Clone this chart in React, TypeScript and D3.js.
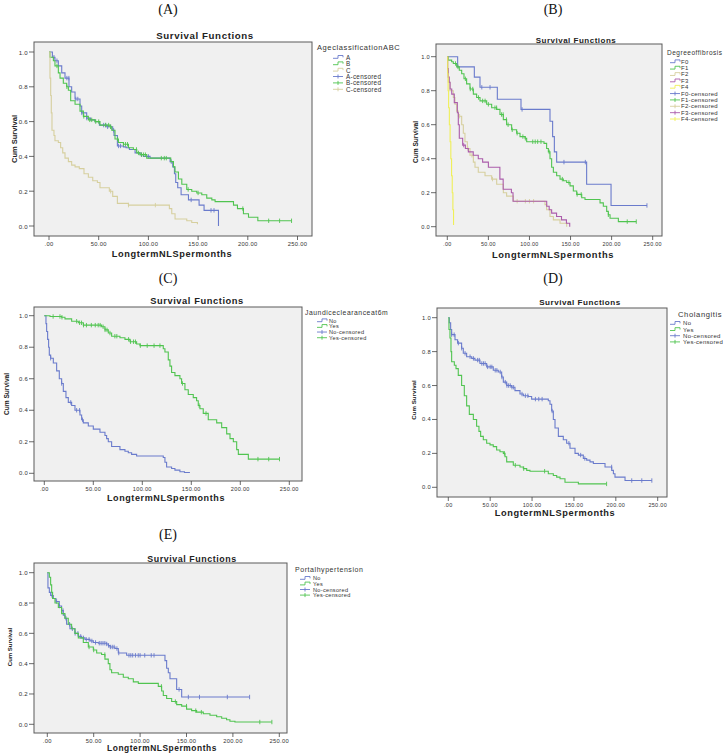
import React from "react";
import * as d3 from "d3";

// ---------------- DATA ----------------
const xTicks = [0, 50, 100, 150, 200, 250];
const xTickLabels = [".00", "50.00", "100.00", "150.00", "200.00", "250.00"];
const yTicks = [0, 0.2, 0.4, 0.6, 0.8, 1.0];
const yTickLabels = ["0.0", "0.2", "0.4", "0.6", "0.8", "1.0"];

// Panel A: Ageclassification ABC
const ageA_steps: [number, number][] = [[3.4,0.97],[6,0.95],[9.4,0.92],[12.8,0.88],[16.1,0.85],[20.1,0.8],[22.8,0.77],[26.2,0.73],[31.2,0.69],[32.9,0.65],[37.9,0.62],[41.9,0.61],[46.3,0.6],[50.7,0.58],[58.1,0.57],[64.1,0.55],[65.4,0.52],[68.8,0.46],[74.8,0.455],[77.5,0.45],[80.9,0.44],[86.6,0.42],[91.6,0.41],[95,0.4],[101.7,0.39],[121.8,0.37],[124.5,0.34],[126.2,0.3],[127.5,0.25],[129.5,0.22],[132.9,0.18],[140.3,0.15],[151,0.12],[156,0.09],[170.5,0]];
const ageA_cens = [5, 8, 18, 20, 27, 29, 33, 38, 55, 57, 59, 62, 65, 70, 72, 93, 100, 123, 143, 163, 166];
const ageB_steps: [number, number][] = [[1,0.97],[4.4,0.95],[6,0.92],[9.4,0.88],[11.1,0.85],[14.4,0.82],[17.8,0.8],[19.5,0.78],[21.8,0.72],[26.2,0.7],[31.2,0.66],[34.6,0.63],[39.6,0.61],[46.3,0.6],[51.3,0.58],[61.4,0.57],[63.1,0.55],[66.4,0.5],[69.8,0.48],[74.8,0.47],[79.9,0.45],[84.9,0.44],[88.3,0.42],[91.6,0.41],[98.3,0.39],[122.5,0.37],[125.2,0.34],[126.8,0.31],[130.2,0.27],[133.6,0.24],[138.6,0.21],[143.6,0.2],[148.7,0.19],[153.7,0.18],[158.7,0.16],[163.8,0.15],[167.1,0.14],[185.6,0.12],[189.6,0.1],[195.6,0.07],[200.7,0.05],[210.1,0.03]];
const ageB_cens = [8, 18, 35, 41, 43, 47, 50, 57, 60, 62, 69, 75, 77, 79, 88, 90, 93, 95, 97, 113, 116, 118, 140, 150, 195, 221, 232, 244];
const ageC_steps: [number, number][] = [[1,0.85],[1.7,0.75],[2.3,0.65],[3,0.55],[5,0.52],[6,0.49],[9.4,0.48],[11.7,0.45],[13.8,0.42],[16.1,0.39],[19.5,0.37],[22.8,0.35],[26.2,0.34],[30.5,0.33],[35.2,0.3],[39.6,0.28],[44,0.26],[48.7,0.25],[51.3,0.22],[60.7,0.2],[64.1,0.17],[68.8,0.13],[79.9,0.12],[121.1,0.1],[123.5,0.07],[126.8,0.04],[138.6,0.03],[143.6,0.02],[149.3,0.01]];
const ageC_cens = [62, 80, 107];

// Panel B: Degree of fibrosis
const fibF0_steps: [number, number][] = [[12.6,0.94],[32.9,0.88],[39.8,0.82],[60.9,0.75],[89.7,0.69],[125,0.62],[128.2,0.53],[130.3,0.44],[133.1,0.38],[169.6,0.25],[199.3,0.125]];
const fibF0_cens = [42, 52, 91, 142, 168, 243];
const fibF1_steps: [number, number][] = [[1.2,0.98],[5.3,0.97],[7.3,0.96],[11.4,0.94],[14.6,0.92],[17.5,0.9],[20.3,0.87],[23.5,0.84],[27.6,0.81],[31.7,0.78],[35.7,0.76],[39.8,0.74],[47.9,0.72],[54,0.7],[60.1,0.69],[64.1,0.66],[68.2,0.63],[72.2,0.6],[78.3,0.57],[84.4,0.55],[88.5,0.53],[94.6,0.52],[96.6,0.5],[117.7,0.49],[120.9,0.46],[123,0.44],[125,0.4],[127,0.35],[129.1,0.32],[133.1,0.3],[137.2,0.28],[141.2,0.27],[145.3,0.26],[149.4,0.24],[153.4,0.21],[157.5,0.19],[163.6,0.17],[167.6,0.16],[185.9,0.14],[189.9,0.12],[194,0.09],[196,0.07],[198.1,0.05],[208.2,0.03]];
const fibF1_cens = [10, 13, 22, 28, 31, 38, 43, 46, 50, 58, 60, 66, 68, 72, 74, 79, 85, 92, 95, 104, 107, 110, 114, 124, 140, 148, 158, 163, 196, 219, 230];
const fibF2_steps: [number, number][] = [[0.4,0.92],[1.2,0.85],[3.2,0.8],[7.3,0.76],[9.3,0.72],[11.4,0.68],[13.4,0.65],[17.5,0.6],[19.5,0.55],[21.5,0.5],[24.4,0.46],[27.6,0.42],[31.7,0.38],[33.7,0.35],[37.7,0.32],[45.9,0.3],[54,0.28],[60.1,0.25],[68.2,0.2],[72.2,0.18],[80.4,0.15],[118.9,0.13],[120.9,0.1],[125,0.06],[129.1,0.04],[137.2,0.02],[145.3,0]];
const fibF2_cens = [15, 25, 30, 55, 85, 95, 100, 105];
const fibF3_steps: [number, number][] = [[0.4,0.93],[1.2,0.88],[2.4,0.85],[3.4,0.81],[5.4,0.78],[8.5,0.73],[12.2,0.67],[13.4,0.6],[14.6,0.52],[18.7,0.48],[22,0.46],[25.6,0.44],[31.6,0.42],[37.7,0.4],[43,0.38],[50,0.35],[64,0.28],[68,0.22],[78,0.2],[80,0.15],[121,0.12],[124,0.1],[127,0.08],[133,0.06],[139,0.04],[145,0.02],[149,0]];
const fibF3_cens = [20];
const fibF4_steps: [number, number][] = [[0.5,0.9],[1,0.8],[1.6,0.7],[2.5,0.6],[3.4,0.5],[4.3,0.4],[5.2,0.3],[6,0.2],[6.8,0.1],[7.6,0.01]];
const fibF4_cens: number[] = [];

// Panel C: Jaundice clearance at 6m
const jauNo_steps: [number, number][] = [[1.7,0.95],[2.4,0.9],[3.4,0.85],[4.4,0.8],[5.1,0.75],[6.5,0.73],[9.2,0.7],[12.6,0.65],[15.3,0.6],[17.7,0.57],[19.4,0.52],[22.1,0.48],[24.5,0.45],[27.9,0.43],[31.3,0.4],[36.4,0.37],[38.1,0.34],[39.8,0.32],[44.9,0.3],[50,0.28],[56.8,0.26],[61.9,0.24],[63.6,0.22],[65.3,0.2],[68.7,0.17],[77.2,0.15],[82.3,0.14],[85.7,0.13],[89.1,0.12],[94.2,0.11],[121.4,0.1],[123.1,0.07],[124.8,0.04],[129.9,0.03],[133.3,0.02],[138.4,0.01],[143,0.005],[148.6,0.005]];
const jauNo_cens = [6.5, 17.7, 27, 33, 36, 39];
const jauYes_steps: [number, number][] = [[5.8,0.995],[17.7,0.99],[21.1,0.98],[27.9,0.965],[34.7,0.955],[39.8,0.94],[58.5,0.93],[61.9,0.91],[65.3,0.89],[68.7,0.87],[77.2,0.86],[82.3,0.85],[87.4,0.835],[94.2,0.82],[97.6,0.81],[121.4,0.79],[123.1,0.77],[126.5,0.72],[128.2,0.68],[129.9,0.64],[133.3,0.62],[138.4,0.6],[140.1,0.57],[143.5,0.53],[146.9,0.5],[152,0.48],[155.4,0.46],[157.1,0.43],[158.8,0.41],[162.2,0.38],[167.3,0.34],[175.9,0.32],[181,0.29],[186.1,0.25],[189.5,0.22],[192.9,0.2],[196.3,0.15],[198,0.12],[208.2,0.09]];
const jauYes_cens = [9, 16, 18, 33, 36, 38, 40, 43, 48, 52, 55, 57, 60, 62, 64, 67, 72, 74, 86, 88, 91, 93, 98, 105, 112, 118, 141, 158, 165, 218, 229, 240];

// Panel D: Cholangitis
const choNo_steps: [number, number][] = [[1.2,0.97],[2.8,0.93],[4,0.9],[8,0.87],[11.1,0.85],[15.9,0.82],[17.9,0.79],[21.9,0.77],[27.9,0.76],[31.8,0.75],[37.8,0.73],[45.8,0.71],[53.7,0.69],[59.7,0.68],[63.7,0.65],[65.7,0.62],[69.7,0.6],[75.6,0.59],[79.6,0.57],[85.6,0.55],[89.6,0.54],[95.5,0.535],[99.5,0.52],[119.4,0.51],[121.4,0.49],[123.4,0.45],[125.4,0.4],[127.4,0.35],[131.4,0.3],[137.3,0.28],[141.3,0.26],[145.3,0.23],[151.3,0.2],[155.3,0.19],[161.2,0.17],[165.2,0.16],[169.2,0.15],[173.2,0.14],[187.1,0.12],[195.1,0.1],[197.1,0.08],[199,0.06],[211,0.04]];
const choNo_cens = [4, 7, 12, 16, 20, 26, 30, 35, 37, 40, 42, 44, 47, 50, 52, 56, 58, 62, 64, 68, 70, 72, 74, 76, 78, 88, 92, 95, 104, 108, 112, 124, 144, 158, 163, 195, 219, 231, 243];
const choYes_steps: [number, number][] = [[0.8,0.93],[2,0.88],[3.2,0.8],[4,0.74],[7.2,0.72],[9.2,0.7],[11.9,0.66],[15.9,0.6],[19.1,0.54],[21.9,0.48],[25.1,0.43],[29.9,0.4],[33.8,0.36],[36.6,0.33],[38.6,0.3],[41.8,0.28],[45.8,0.26],[49.8,0.25],[53.7,0.24],[57.7,0.22],[61.7,0.21],[65.7,0.2],[67.7,0.18],[69.7,0.15],[77.6,0.13],[85.6,0.12],[89.6,0.11],[93.6,0.1],[97.5,0.095],[119.4,0.08],[125.4,0.07],[129.4,0.06],[133.4,0.05],[139.3,0.03],[155.3,0.02]];
const choYes_cens = [67, 80, 90, 115, 189];

// Panel E: Portal hypertension
const porNo_steps: [number, number][] = [[0.7,0.9],[2.2,0.87],[3.6,0.85],[6.5,0.83],[9.3,0.81],[12.9,0.78],[15.4,0.75],[17.2,0.72],[19,0.7],[20.8,0.66],[24.4,0.63],[29.8,0.6],[33.4,0.58],[37,0.57],[40.6,0.56],[46,0.55],[49.6,0.54],[55,0.535],[63.9,0.53],[65.7,0.52],[67.5,0.51],[72.9,0.5],[76.5,0.47],[85.5,0.455],[126.8,0.42],[128.6,0.37],[130.4,0.34],[132.2,0.3],[139.4,0.23],[144.8,0.18]];
const porNo_cens = [5, 10, 13, 17, 20, 24, 27, 30, 33, 36, 39, 42, 45, 48, 52, 56, 58, 60, 62, 64, 66, 68, 70, 72, 75, 77, 88, 90, 92, 95, 98, 100, 105, 112, 115, 142, 152, 164, 194, 218];
const porYes_steps: [number, number][] = [[2.2,0.97],[3.6,0.92],[4.7,0.87],[5.7,0.83],[8.3,0.8],[11.9,0.77],[15.4,0.73],[19,0.7],[22.6,0.66],[26.2,0.63],[29.8,0.6],[33.4,0.57],[38.8,0.54],[44.2,0.51],[49.6,0.49],[53.2,0.47],[58.5,0.46],[62.1,0.43],[65.7,0.4],[67.5,0.36],[69.3,0.34],[76.5,0.33],[81.9,0.31],[87.3,0.3],[92.7,0.28],[98.1,0.27],[119.6,0.25],[123.2,0.22],[125,0.19],[128.6,0.17],[134,0.15],[139.4,0.13],[144.8,0.12],[150.1,0.1],[155.5,0.09],[160.9,0.08],[168.1,0.07],[175.3,0.06],[182.5,0.05],[187.9,0.04],[193.2,0.03],[196.8,0.02],[202.2,0.015]];
const porYes_cens = [45, 50, 62, 123, 138, 150, 160, 166, 229, 242];

// ---------------- STYLE / LAYOUT ----------------
const C_BLUE = "#6a7bcc";
const C_GREEN = "#50c450";
const C_TAN = "#d6cf9e";
const C_PURPLE = "#ab5cab";
const C_YELLOW = "#efef58";

type Series = { name: string; color: string; steps: [number, number][]; cens: number[] };

const panels = [
  {
    tag: "(A)", tagX: 168, tagY: 9,
    frame: [34, 42, 312, 236], xr: [49, 297.5], yr: [226, 52],
    titleX: 205, titleY: 39.3, titleFs: 9.7,
    xlabX: 172, xlabY: 254, xlabFs: 9.2, ylabX: 14, ylabY: 139, ylabFs: 7.5, tickFs: 5.8,
    legTitle: "AgeclassificationABC", legX: 317, legY: 47.7, legFs: 7.5, itemY: 57.3, itemStep: 6.4, itemFs: 6.3, symX: 333, txtX: 346,
    series: [
      { name: "A", color: C_BLUE, steps: ageA_steps, cens: ageA_cens },
      { name: "B", color: C_GREEN, steps: ageB_steps, cens: ageB_cens },
      { name: "C", color: C_TAN, steps: ageC_steps, cens: ageC_cens },
    ] as Series[],
  },
  {
    tag: "(B)", tagX: 553, tagY: 9,
    frame: [436, 44, 662, 236], xr: [447.3, 652.7], yr: [226.7, 56.7],
    titleX: 576, titleY: 43.3, titleFs: 8.0,
    xlabX: 553, xlabY: 255, xlabFs: 9.3, ylabX: 415, ylabY: 142, ylabFs: 6.6, tickFs: 5.4,
    legTitle: "Degreeoffibrosis", legX: 667, legY: 52.3, legFs: 6.5, itemY: 61.7, itemStep: 6.37, itemFs: 6.0, symX: 670, txtX: 681,
    series: [
      { name: "F0", color: C_BLUE, steps: fibF0_steps, cens: fibF0_cens },
      { name: "F1", color: C_GREEN, steps: fibF1_steps, cens: fibF1_cens },
      { name: "F2", color: C_TAN, steps: fibF2_steps, cens: fibF2_cens },
      { name: "F3", color: C_PURPLE, steps: fibF3_steps, cens: fibF3_cens },
      { name: "F4", color: C_YELLOW, steps: fibF4_steps, cens: fibF4_cens },
    ] as Series[],
  },
  {
    tag: "(C)", tagX: 168, tagY: 278,
    frame: [34, 307, 302, 481], xr: [44.3, 289.3], yr: [473.3, 315.7],
    titleX: 197, titleY: 303.5, titleFs: 9.3,
    xlabX: 166, xlabY: 498, xlabFs: 9.0, ylabX: 6, ylabY: 394, ylabFs: 6.6, tickFs: 5.6,
    legTitle: "Jaundiceclearanceat6m", legX: 305, legY: 312.3, legFs: 6.8, itemY: 320.7, itemStep: 5.67, itemFs: 5.6, symX: 317, txtX: 329,
    series: [
      { name: "No", color: C_BLUE, steps: jauNo_steps, cens: jauNo_cens },
      { name: "Yes", color: C_GREEN, steps: jauYes_steps, cens: jauYes_cens },
    ] as Series[],
  },
  {
    tag: "(D)", tagX: 553, tagY: 278,
    frame: [437, 308, 667, 497], xr: [448.3, 657.7], yr: [487.3, 317.7],
    titleX: 580, titleY: 304.5, titleFs: 8.1,
    xlabX: 555, xlabY: 513, xlabFs: 9.2, ylabX: 413, ylabY: 400, ylabFs: 6.2, tickFs: 5.5,
    legTitle: "Cholangitis", legX: 678, legY: 314, legFs: 7.6, itemY: 323.3, itemStep: 6.2, itemFs: 6.0, symX: 670, txtX: 683,
    series: [
      { name: "No", color: C_BLUE, steps: choNo_steps, cens: choNo_cens },
      { name: "Yes", color: C_GREEN, steps: choYes_steps, cens: choYes_cens },
    ] as Series[],
  },
  {
    tag: "(E)", tagX: 168, tagY: 534,
    frame: [34, 563, 287, 733], xr: [47.3, 279.3], yr: [724.3, 572.7],
    titleX: 192, titleY: 562, titleFs: 8.9,
    xlabX: 162, xlabY: 748, xlabFs: 8.4, ylabX: 10, ylabY: 647, ylabFs: 6.0, tickFs: 5.8,
    legTitle: "Portalhypertension", legX: 295, legY: 569.3, legFs: 7.0, itemY: 578.3, itemStep: 5.6, itemFs: 5.6, symX: 300, txtX: 313,
    series: [
      { name: "No", color: C_BLUE, steps: porNo_steps, cens: porNo_cens },
      { name: "Yes", color: C_GREEN, steps: porYes_steps, cens: porYes_cens },
    ] as Series[],
  },
];

const SANS = "'Liberation Sans', Arial, sans-serif";
const SERIF = "'Liberation Serif', 'Times New Roman', serif";

function survAt(steps: [number, number][], t: number) {
  let s = 1;
  for (const [ti, si] of steps) {
    if (ti <= t) s = si;
    else break;
  }
  return s;
}

function Panel({ p }: { p: (typeof panels)[number] }) {
  const x = d3.scaleLinear().domain([0, 250]).range(p.xr);
  const y = d3.scaleLinear().domain([0, 1]).range(p.yr);
  const [fx0, fy0, fx1, fy1] = p.frame;
  const line = d3
    .line<[number, number]>()
    .x((d) => x(d[0]))
    .y((d) => y(d[1]))
    .curve(d3.curveStepAfter);

  return (
    <g>
      <text x={p.tagX} y={p.tagY} fontFamily={SERIF} fontSize={14} textAnchor="middle" dominantBaseline="central" fill="#111">
        {p.tag}
      </text>
      <text x={p.titleX} y={p.titleY} fontFamily={SANS} fontSize={p.titleFs} fontWeight="bold" letterSpacing={p.titleFs * 0.063} textAnchor="middle" fill="#222">
        Survival Functions
      </text>
      <rect x={fx0} y={fy0} width={fx1 - fx0} height={fy1 - fy0} fill="#f0f0f0" stroke="#5a5a5a" strokeWidth={1} />
      {yTicks.map((v, i) => (
        <g key={"y" + i}>
          <line x1={fx0 - 5} x2={fx0} y1={y(v)} y2={y(v)} stroke="#444" strokeWidth={0.8} />
          <text x={fx0 - 6} y={y(v)} fontFamily={SANS} fontSize={p.tickFs + 0.3} letterSpacing={0.3} textAnchor="end" dominantBaseline="central" fill="#333">
            {yTickLabels[i]}
          </text>
        </g>
      ))}
      {xTicks.map((v, i) => (
        <g key={"x" + i}>
          <line x1={x(v)} x2={x(v)} y1={fy1} y2={fy1 + 4} stroke="#444" strokeWidth={0.8} />
          <text x={x(v)} y={fy1 + 7.5} fontFamily={SANS} fontSize={p.tickFs} letterSpacing={0.3} textAnchor="middle" dominantBaseline="central" fill="#333">
            {xTickLabels[i]}
          </text>
        </g>
      ))}
      <text x={p.xlabX} y={p.xlabY} fontFamily={SANS} fontSize={p.xlabFs} fontWeight="bold" letterSpacing={p.xlabFs * 0.067} textAnchor="middle" dominantBaseline="central" fill="#222">
        LongtermNLSpermonths
      </text>
      <text
        transform={`translate(${p.ylabX},${p.ylabY}) rotate(-90)`}
        fontFamily={SANS}
        fontSize={p.ylabFs}
        fontWeight="bold"
        textAnchor="middle"
        dominantBaseline="central"
        fill="#222"
      >
        Cum Survival
      </text>
      {p.series.map((s, si) => {
        const lastStep = s.steps[s.steps.length - 1];
        const endT = Math.max(lastStep[0], s.cens.length ? s.cens[s.cens.length - 1] : 0);
        const pts: [number, number][] = [[0, 1], ...s.steps, [endT, lastStep[1]]];
        return (
          <g key={"s" + si}>
            <path d={line(pts) || ""} fill="none" stroke={s.color} strokeWidth={1.1} />
            {s.cens.map((t, ci) => {
              const sv = survAt(s.steps, t);
              return (
                <line key={ci} x1={x(t)} x2={x(t)} y1={y(sv) - 2.2} y2={y(sv) + 2.2} stroke={s.color} strokeWidth={0.9} />
              );
            })}
          </g>
        );
      })}
      <text x={p.legX} y={p.legY} fontFamily={SANS} fontSize={p.legFs} letterSpacing={p.legFs * 0.08} dominantBaseline="central" fill="#333">
        {p.legTitle}
      </text>
      {p.series.map((s, i) => {
        const yy = p.itemY + i * p.itemStep;
        return (
          <g key={"l" + i}>
            <path d={`M${p.symX},${yy + 1}H${p.symX + 5}V${yy - 1.8}H${p.symX + 10}V${yy}`} fill="none" stroke={s.color} strokeWidth={0.9} />
            <text x={p.txtX} y={yy} fontFamily={SANS} fontSize={p.itemFs} letterSpacing={0.3} dominantBaseline="central" fill="#333">
              {s.name}
            </text>
          </g>
        );
      })}
      {p.series.map((s, i) => {
        const yy = p.itemY + (p.series.length + i) * p.itemStep;
        return (
          <g key={"lc" + i}>
            <line x1={p.symX} x2={p.symX + 10} y1={yy} y2={yy} stroke={s.color} strokeWidth={0.9} />
            <line x1={p.symX + 5} x2={p.symX + 5} y1={yy - 2} y2={yy + 2} stroke={s.color} strokeWidth={0.9} />
            <text x={p.txtX} y={yy} fontFamily={SANS} fontSize={p.itemFs} letterSpacing={0.3} dominantBaseline="central" fill="#333">
              {s.name + "-censored"}
            </text>
          </g>
        );
      })}
    </g>
  );
}

export default function App() {
  return (
    <svg width={723} height={753} style={{ position: "absolute", left: 0, top: 0, background: "#fff" }}>
      <rect x={0} y={0} width={723} height={753} fill="#fff" />
      {panels.map((p, i) => (
        <Panel key={i} p={p} />
      ))}
    </svg>
  );
}
